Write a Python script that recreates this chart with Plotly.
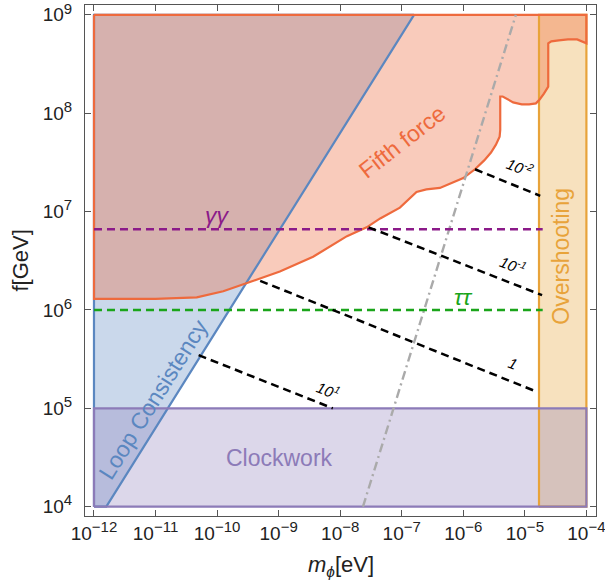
import numpy as np
import plotly.graph_objects as go

# ---------------- data (log10 values) ----------------
x_tick_exp = [-12, -11, -10, -9, -8, -7, -6, -5, -4]
y_tick_exp = [4, 5, 6, 7, 8, 9]

# Loop consistency region (log10 m, log10 f)
loop_logm = [-12.0, -11.8, -6.8, -12.0]
loop_logf = [4.0, 4.0, 9.0, 9.0]

# Fifth force excluded region boundary
fifth_logm = [-12.0, -12.0, -11.0, -10.6, -10.33, -9.90, -9.52, -8.98, -8.44, -7.89,
              -7.57, -7.35, -7.03, -6.76, -6.60, -6.38, -6.00, -5.81, -5.66, -5.55,
              -5.47, -5.41, -5.40, -5.40, -5.36, -5.30, -5.19, -5.05, -4.93, -4.82,
              -4.76, -4.69, -4.62, -4.62, -4.57, -4.45, -4.30, -4.15, -4.06, -4.00,
              -4.00]
fifth_logf = [9.0, 6.113, 6.113, 6.117, 6.127, 6.19, 6.27, 6.39, 6.54, 6.75,
              6.84, 6.93, 7.04, 7.20, 7.225, 7.24, 7.34, 7.43, 7.52, 7.60,
              7.68, 7.76, 7.83, 8.17, 8.17, 8.15, 8.11, 8.09, 8.09, 8.10,
              8.14, 8.20, 8.27, 8.71, 8.73, 8.74, 8.75, 8.75, 8.73, 8.71,
              9.0]

# Overshooting band
over_logm = [-4.77, -4.0, -4.0, -4.77]
over_logf = [4.0, 4.0, 9.0, 9.0]

# Clockwork band
clock_logm = [-12.0, -4.0, -4.0, -12.0]
clock_logf = [4.0, 4.0, 5.0, 5.0]

# Horizontal decay lines
gg_logm = [-12.0, -4.71]
gg_logf = [6.82, 6.82]
tt_logm = [-12.0, -4.71]
tt_logf = [6.0, 6.0]

# Grey dash-dot line
grey_logm = [-7.63, -5.146]
grey_logf = [4.0, 9.0]

# Coupling contours (start, end)
coupling_labels = ["10<sup>-2</sup>", "10<sup>-1</sup>", "1", "10<sup>1</sup>"]
coupling_logm = [[-5.81, -4.75], [-7.54, -4.72], [-9.30, -4.84], [-10.30, -8.12]]
coupling_logf = [[7.43, 7.16], [6.84, 6.15], [6.296, 5.177], [5.54, 5.0]]
coupling_label_logm = [-5.08, -5.19, -5.19, -8.19]
coupling_label_logf = [7.46, 6.46, 5.46, 5.19]

P = lambda a: np.power(10.0, np.asarray(a, dtype=float))

ORANGE_RED = "#ee6a3d"
BLUE = "#5b87c0"
PURPLE = "#8c7bb8"
ORANGE = "#e8a33a"
FONT = "Liberation Sans"

fig = go.Figure()

def fill(lm, lf, fill_rgba):
    fig.add_trace(go.Scatter(x=P(lm), y=P(lf), mode="lines", fill="toself",
                             fillcolor=fill_rgba, line=dict(width=0),
                             hoverinfo="skip", showlegend=False))

def outline(lm, lf, col, w=2.2):
    fig.add_trace(go.Scatter(x=P(list(lm) + [lm[0]]), y=P(list(lf) + [lf[0]]), mode="lines",
                             line=dict(color=col, width=w),
                             hoverinfo="skip", showlegend=False))

fill(loop_logm, loop_logf, "rgba(91,135,192,0.32)")
fill(over_logm, over_logf, "rgba(232,163,58,0.33)")
fill(fifth_logm, fifth_logf, "rgba(238,106,61,0.35)")
fill(clock_logm, clock_logf, "rgba(140,123,184,0.30)")

outline(loop_logm, loop_logf, BLUE)
outline(over_logm, over_logf, ORANGE)
outline(fifth_logm, fifth_logf, ORANGE_RED)
outline(clock_logm, clock_logf, PURPLE)

def line(lm, lf, col, dash, w=2.5):
    fig.add_trace(go.Scatter(x=P(lm), y=P(lf), mode="lines",
                             line=dict(color=col, width=w, dash=dash),
                             hoverinfo="skip", showlegend=False))

line(grey_logm, grey_logf, "#aaaaaa", "9px,4px,2px,4px", 2.4)
line(gg_logm, gg_logf, "#8b1a89", "8px,5px")
line(tt_logm, tt_logf, "#1aa51a", "8px,5px")
for lm, lf in zip(coupling_logm, coupling_logf):
    line(lm, lf, "black", "8px,5px")

ann = []
def label(text, lm, lf, col, size, angle=0, italic=False):
    ann.append(dict(text=f"<i>{text}</i>" if italic else text,
                    x=lm, y=lf, xref="x", yref="y", showarrow=False,
                    textangle=angle, font=dict(family=FONT, size=size, color=col),
                    xanchor="center", yanchor="middle"))

label("Fifth force", -7.0, 7.71, ORANGE_RED, 23, -38)
label("Loop Consistency", -11.03, 5.09, BLUE, 23, -57.9)
label("Clockwork", -8.99, 4.49, PURPLE, 23)
label("Overshooting", -4.415, 6.55, ORANGE, 23, -90)
label("γγ", -10.0, 6.967, "#8b1a89", 23, 0, True)
label("ττ", -6.0, 6.13, "#1aa51a", 23, 0, True)
for t, lm, lf in zip(coupling_labels, coupling_label_logm, coupling_label_logf):
    label(t, lm, lf, "black", 15, 22, True)

ann.append(dict(text="<i>m</i><sub><i>ϕ</i></sub>[eV]", x=0.5, y=0, xref="paper", yref="paper",
                showarrow=False, yshift=-50, xanchor="center", yanchor="middle",
                font=dict(family=FONT, size=22, color="#222")))
ann.append(dict(text="f[GeV]", x=0, y=0.5, xref="paper", yref="paper", textangle=-90,
                showarrow=False, xshift=-65, xanchor="center", yanchor="middle",
                font=dict(family=FONT, size=22, color="#222")))

axis_common = dict(type="log", showgrid=False, zeroline=False, showline=True,
                   linecolor="#555", linewidth=1, mirror="ticks", ticks="inside",
                   ticklen=6, tickcolor="#555", automargin=False,
                   ticklabeloverflow="allow",
                   tickfont=dict(family=FONT, size=19, color="#222"))

def sup(s):
    return f"10<sup><span style='font-size:15px'>{s}</span></sup>"

fig.update_layout(
    width=605, height=584,
    margin=dict(l=85, r=9, t=5, b=68),
    paper_bgcolor="white", plot_bgcolor="white",
    xaxis=dict(range=[-12.146, -3.844],
               tickvals=list(P(x_tick_exp)),
               ticktext=[sup(f"−{-e}") for e in x_tick_exp],
               **axis_common),
    yaxis=dict(range=[3.905, 9.10],
               tickvals=list(P(y_tick_exp)),
               ticktext=[sup(str(e)) for e in y_tick_exp],
               ticklabelstandoff=8,
               **axis_common),
    annotations=ann,
)

fig.write_html("out.html", config={"displayModeBar": False},
               post_script="document.body.style.margin='0';")
